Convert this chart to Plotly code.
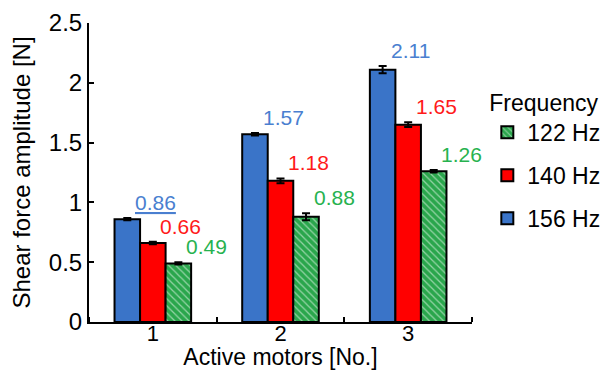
import plotly.graph_objects as go

motors = [1, 2, 3]
tick_labels = ["1", "2", "3"]
freq_names = ["156 Hz", "140 Hz", "122 Hz"]
vals_156 = [0.86, 1.57, 2.11]
vals_140 = [0.66, 1.18, 1.65]
vals_122 = [0.49, 0.88, 1.26]
err_156 = [0.01, 0.01, 0.03]
err_140 = [0.01, 0.02, 0.02]
err_122 = [0.01, 0.03, 0.01]

bar_colors = ["#3a74c8", "#ff0000", "#2aa64c"]
label_colors = ["#4a7fd0", "#ff1a1a", "#27b24f"]
series = [vals_156, vals_140, vals_122]
errors = [err_156, err_140, err_122]
offsets = [-0.2, 0.0, 0.2]
legend_ranks = [3, 2, 1]
FONT = "Liberation Sans, Arial, sans-serif"

fig = go.Figure()
for i in range(3):
    marker = dict(color=bar_colors[i], line=dict(color="black", width=2))
    if i == 2:
        marker["pattern"] = dict(shape="\\", fgcolor="white", bgcolor=bar_colors[i],
                                 size=5, solidity=0.25, fillmode="overlay")
    fig.add_trace(go.Bar(
        x=motors, y=series[i], name=freq_names[i], marker=marker,
        legendgroup=f"g{i}", legendrank=legend_ranks[i],
        error_y=dict(type="data", array=errors[i], color="black", thickness=2, width=4),
    ))

annotations = []
for i in range(3):
    for j, m in enumerate(motors):
        txt = f"{series[i][j]:.2f}"
        if i == 0 and j == 0:
            txt = f"<u>{txt}</u>"
        annotations.append(dict(
            x=m + offsets[i] + 0.22, y=series[i][j] + errors[i][j], xref="x", yref="y",
            text=txt, showarrow=False, yanchor="bottom", xanchor="center", yshift=2,
            font=dict(family=FONT, size=21, color=label_colors[i]),
        ))

fig.update_layout(
    width=602, height=362,
    margin=dict(l=81, r=138, t=15, b=48, autoexpand=False),
    paper_bgcolor="white", plot_bgcolor="white",
    font=dict(family=FONT, size=24, color="black"),
    barmode="group", bargap=0.4, bargroupgap=0,
    showlegend=True,
    legend=dict(
        title=dict(text="Frequency", font=dict(size=23)),
        traceorder="grouped", tracegroupgap=10,
        x=1.04, xanchor="left", y=0.806, yanchor="top",
        font=dict(size=23), bgcolor="rgba(0,0,0,0)",
    ),
    annotations=annotations,
)
fig.update_xaxes(
    range=[0.5, 3.5], tickvals=motors, ticktext=tick_labels, ticks="",
    showline=True, linecolor="black", linewidth=2, showgrid=False, zeroline=False,
    minor=dict(tickvals=[0.5, 1.5, 2.5, 3.5], ticks="inside", ticklen=5,
               tickwidth=2, tickcolor="black", showgrid=False),
    ticklabelstandoff=-9,
    title=dict(text="Active motors [No.]", standoff=3, font=dict(size=23)),
    tickfont=dict(size=22), automargin=False,
)
fig.update_yaxes(
    range=[0, 2.5], tickvals=[0, 0.5, 1, 1.5, 2, 2.5],
    ticktext=["0", "0.5", "1", "1.5", "2", "2.5"],
    ticks="inside", ticklen=5, tickwidth=2, tickcolor="black",
    showline=True, linecolor="black", linewidth=2, showgrid=False, zeroline=False,
    title=dict(text="Shear force amplitude [N]", standoff=16, font=dict(size=24)),
    tickfont=dict(size=24), automargin=False,
)
fig.write_html("out.html")
